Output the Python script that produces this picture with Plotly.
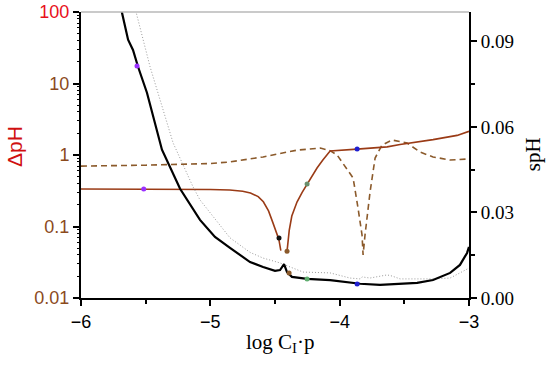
import plotly.graph_objects as go

# ---- data ----
# Solid brown ΔpH (left, log axis); None marks the gap at the bottom of the V
dph_solid_x = [-6.0, -5.5, -5.0, -4.85, -4.75, -4.69, -4.63, -4.59, -4.55, -4.52, -4.49,
               -4.47, -4.455, None,
               -4.407, -4.39, -4.37, -4.33, -4.29, -4.252, -4.21, -4.175, -4.13, -4.09,
               -4.074, -3.865, -3.633, -3.533, -3.378, -3.278, -3.092, -3.0]
dph_solid_y = [0.334, 0.334, 0.330, 0.324, 0.312, 0.295, 0.262, 0.222, 0.165, 0.118, 0.085,
               0.066, 0.046, None,
               0.045, 0.088, 0.14, 0.22, 0.30, 0.393, 0.52, 0.658, 0.85, 1.05,
               1.14, 1.21, 1.30, 1.40, 1.52, 1.64, 1.88, 2.14]

# Dashed brown ΔpH
dph_dash_x = [-6.0, -5.5, -5.0, -4.848, -4.592, -4.33, -4.15, -4.074, -4.02, -3.896,
              -3.858, -3.827, -3.819, -3.804, -3.765, -3.726, -3.672, -3.595, -3.479,
              -3.378, -3.278, -3.146, -3.0]
dph_dash_y = [0.70, 0.72, 0.76, 0.80, 0.94, 1.17, 1.25, 1.15, 1.0, 0.477,
              0.181, 0.076, 0.040, 0.076, 0.304, 0.908, 1.38, 1.62, 1.47,
              1.10, 0.94, 0.85, 0.88]

# Black solid sPH (right axis)
sph_x = [-5.72, -5.683, -5.636, -5.598, -5.559, -5.490, -5.374, -5.234, -5.080, -4.964,
         -4.848, -4.693, -4.592, -4.50, -4.461, -4.430, -4.407, -4.369, -4.252, -4.074,
         -3.842, -3.688, -3.401, -3.278, -3.146, -3.07, -3.015, -3.0]
sph_y = [0.112, 0.100, 0.0906, 0.0870, 0.0811, 0.0720, 0.0520, 0.0383, 0.0274, 0.0214,
         0.0176, 0.0126, 0.0109, 0.0095, 0.0098, 0.0119, 0.0091, 0.0074, 0.0067, 0.0063,
         0.0050, 0.0046, 0.0053, 0.0063, 0.0088, 0.0116, 0.0158, 0.0179]

# Dotted grey sPH (right axis)
sph2_x = [-5.60, -5.575, -5.466, -5.288, -5.134, -5.080, -4.848, -4.693, -4.592, -4.461,
          -4.384, -4.283, -4.074, -3.920, -3.842, -3.827, -3.765, -3.688, -3.633, -3.595,
          -3.533, -3.278, -3.146, -3.07, -3.0]
sph2_y = [0.108, 0.1004, 0.0811, 0.0544, 0.0390, 0.0344, 0.0211, 0.0160, 0.0140, 0.0123,
          0.0109, 0.0091, 0.0088, 0.0070, 0.0067, 0.0074, 0.0070, 0.0075, 0.0081, 0.0077,
          0.0067, 0.0067, 0.0070, 0.0088, 0.0105]

# Marked points
dot_dph_x = [-5.515, -4.469, -4.407, -4.252, -3.865]
dot_dph_y = [0.334, 0.069, 0.045, 0.393, 1.21]
dot_dph_c = ["#9b30ff", "#111111", "#8b5a2b", "#6b8e6b", "#1f1fd0"]
dot_sph_x = [-5.567, -4.391, -4.252, -3.865]
dot_sph_y = [0.0814, 0.0088, 0.0067, 0.0049]
dot_sph_c = ["#9b30ff", "#8b5a2b", "#5fae6f", "#1f1fd0"]

left_tickvals = [0.01, 0.1, 1, 10, 100]
left_ticktext = ["0.01", "0.1", "1", "10", "<span style='color:#e8101a'>100</span>"]
left_minor_vals = [m * 10 ** e for e in (-2, -1, 0, 1) for m in range(2, 10)]
x_tickvals = [-6, -5, -4, -3]
x_ticktext = ["\u22126", "\u22125", "\u22124", "\u22123"]

brown = "#9a3b16"
dash_brown = "#8b5a2b"
tick_brown = "#8b4a1c"

fig = go.Figure()
fig.add_trace(go.Scatter(x=sph2_x, y=sph2_y, yaxis="y2", mode="lines",
                         line=dict(color="#9a9a9a", width=1.0, dash="1px,2px"),
                         showlegend=False))
fig.add_trace(go.Scatter(x=sph_x, y=sph_y, yaxis="y2", mode="lines",
                         line=dict(color="black", width=2.2), showlegend=False))
fig.add_trace(go.Scatter(x=dph_dash_x, y=dph_dash_y, mode="lines",
                         line=dict(color=dash_brown, width=1.6, dash="6px,4px"),
                         showlegend=False))
fig.add_trace(go.Scatter(x=dph_solid_x, y=dph_solid_y, mode="lines",
                         line=dict(color=brown, width=1.6), connectgaps=False,
                         showlegend=False))
fig.add_trace(go.Scatter(x=dot_dph_x, y=dot_dph_y, mode="markers",
                         marker=dict(color=dot_dph_c, size=5), showlegend=False))
fig.add_trace(go.Scatter(x=dot_sph_x, y=dot_sph_y, yaxis="y2", mode="markers",
                         marker=dict(color=dot_sph_c, size=5), showlegend=False))
# invisible trace to activate the minor-tick helper axis
fig.add_trace(go.Scatter(x=[-6], y=[1], yaxis="y3", mode="markers",
                         marker=dict(opacity=0), showlegend=False, hoverinfo="skip"))

serif = "Liberation Serif, Times New Roman"
sans = "Liberation Sans, Arial"

fig.update_layout(
    width=550, height=367,
    margin=dict(l=81, r=81, t=12, b=69),
    paper_bgcolor="white", plot_bgcolor="white",
    showlegend=False,
    xaxis=dict(
        range=[-6, -3], tickvals=x_tickvals, ticktext=x_ticktext, automargin=False,
        ticks="outside", ticklen=6, tickwidth=1.5, tickcolor="black",
        minor=dict(ticks="outside", ticklen=4, tickwidth=1.5, dtick=0.5, tick0=-6,
                   tickcolor="black", showgrid=False),
        showline=True, linecolor="black", linewidth=2, showgrid=False, zeroline=False,
        tickfont=dict(family=sans, size=18, color="black"),
    ),
    yaxis=dict(
        type="log", range=[-2, 2], tickvals=left_tickvals, ticktext=left_ticktext,
        automargin=False,
        ticks="outside", ticklen=6, tickwidth=1.5, tickcolor="black",
        showline=True, linecolor="black", linewidth=2, showgrid=False, zeroline=False,
        tickfont=dict(family=sans, size=18, color=tick_brown),
    ),
    yaxis3=dict(
        type="log", range=[-2, 2], overlaying="y", side="left", automargin=False,
        tickvals=left_minor_vals, ticktext=[""] * len(left_minor_vals),
        ticks="outside", ticklen=3, tickwidth=1, tickcolor="black",
        showline=False, showgrid=False, zeroline=False,
    ),
    yaxis2=dict(
        overlaying="y", side="right", range=[0, 0.1003], automargin=False,
        tickvals=[0, 0.03, 0.06, 0.09], ticktext=["0.00", "0.03", "0.06", "0.09"],
        ticks="outside", ticklen=6, tickwidth=1.5, tickcolor="black",
        minor=dict(ticks="outside", ticklen=4, tickwidth=1.5, dtick=0.015, tick0=0,
                   tickcolor="black", showgrid=False),
        showline=True, linecolor="black", linewidth=2, showgrid=False, zeroline=False,
        tickfont=dict(family=serif, size=19, color="black"),
    ),
    shapes=[dict(type="line", xref="paper", yref="paper", x0=0, x1=1, y0=1, y1=1,
                 line=dict(color="#b8b8b8", width=1.5))],
    annotations=[
        dict(text="log C<sub>I</sub>·p", xref="paper", yref="paper", x=0.513, y=-0.157,
             showarrow=False, xanchor="center", yanchor="middle",
             font=dict(family=serif, size=21, color="black")),
        dict(text="\u0394pH", xref="paper", yref="paper", x=-0.170, y=0.528,
             showarrow=False, xanchor="center", yanchor="middle", textangle=-90,
             font=dict(family=sans, size=21, color="#d01010")),
        dict(text="spH", xref="paper", yref="paper", x=1.165, y=0.503,
             showarrow=False, xanchor="center", yanchor="middle", textangle=-90,
             font=dict(family=serif, size=21, color="black")),
    ],
)

fig.write_html("out.html", config={"displayModeBar": False},
               post_script="document.body.style.margin='0px';")
